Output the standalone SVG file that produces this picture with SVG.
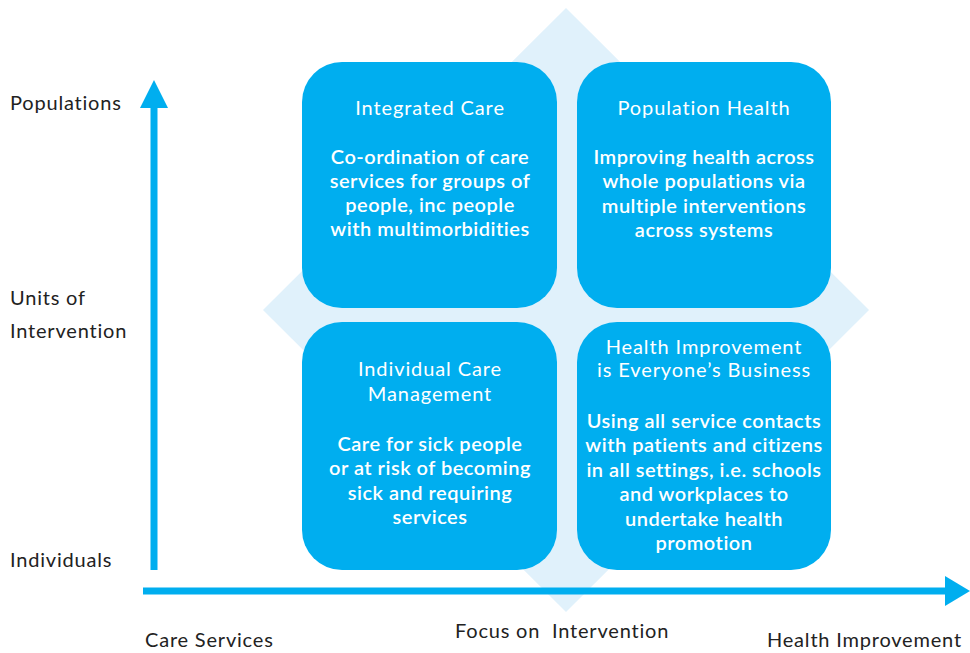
<svg xmlns="http://www.w3.org/2000/svg" width="970" height="653" viewBox="0 0 970 653">
<style>
.box{fill:#00aeef}
.t{font-family:Lato,"Open Sans","Liberation Sans",sans-serif;font-size:20px;fill:#fff;text-anchor:middle;letter-spacing:0.9px}
.b{font-weight:600;letter-spacing:0.5px}
.lab{font-family:Lato,"Open Sans","Liberation Sans",sans-serif;font-size:20px;fill:#222;letter-spacing:0.8px;white-space:pre}
.ax{fill:#00aeef}
</style>
<rect width="970" height="653" fill="#fff"/>
<polygon points="566,8 869,310 566,612 263,310" fill="#e0f1fb"/>
<g id="connectors">
<rect class="ax" x="150.5" y="106" width="7" height="464"/>
<polygon class="ax" points="154,80 168,108 140,108"/>
<rect class="ax" x="143" y="587.5" width="804" height="7"/>
<polygon class="ax" points="970,591 945,576 945,606"/>
</g>
<g id="integrated-care">
<rect class="box" x="302" y="62" width="255" height="246" rx="40"/>
<text class="t" x="430" y="115">Integrated Care</text>
<text class="t b" x="430" y="164">Co-ordination of care</text>
<text class="t b" x="430" y="188">services for groups of</text>
<text class="t b" x="430" y="212">people, inc people</text>
<text class="t b" x="430" y="236">with multimorbidities</text>
</g>
<g id="population-health">
<rect class="box" x="577" y="62" width="254" height="246" rx="40"/>
<text class="t" x="704" y="115">Population Health</text>
<text class="t b" x="704" y="164">Improving health across</text>
<text class="t b" x="704" y="188">whole populations via</text>
<text class="t b" x="704" y="213">multiple interventions</text>
<text class="t b" x="704" y="237">across systems</text>
</g>
<g id="individual-care">
<rect class="box" x="302" y="322" width="255" height="248" rx="40"/>
<text class="t" x="430" y="376">Individual Care</text>
<text class="t" x="430" y="401">Management</text>
<text class="t b" x="430" y="451">Care for sick people</text>
<text class="t b" x="430" y="475">or at risk of becoming</text>
<text class="t b" x="430" y="500">sick and requiring</text>
<text class="t b" x="430" y="524">services</text>
</g>
<g id="health-improvement">
<rect class="box" x="577" y="322" width="254" height="248" rx="40"/>
<text class="t" x="704" y="354">Health Improvement</text>
<text class="t" x="704" y="377">is Everyone’s Business</text>
<text class="t b" x="704" y="428">Using all service contacts</text>
<text class="t b" x="704" y="452">with patients and citizens</text>
<text class="t b" x="704" y="477">in all settings, i.e. schools</text>
<text class="t b" x="704" y="501">and workplaces to</text>
<text class="t b" x="704" y="526">undertake health</text>
<text class="t b" x="704" y="550">promotion</text>
</g>
<g id="labels">
<text class="lab" x="10" y="110">Populations</text>
<text class="lab" x="10" y="305">Units of</text>
<text class="lab" x="10" y="338">Intervention</text>
<text class="lab" x="10" y="567">Individuals</text>
<text class="lab" x="145" y="647">Care Services</text>
<text class="lab" x="455" y="638" xml:space="preserve">Focus on  Intervention</text>
<text class="lab" x="767" y="647">Health Improvement</text>
</g>
</svg>
